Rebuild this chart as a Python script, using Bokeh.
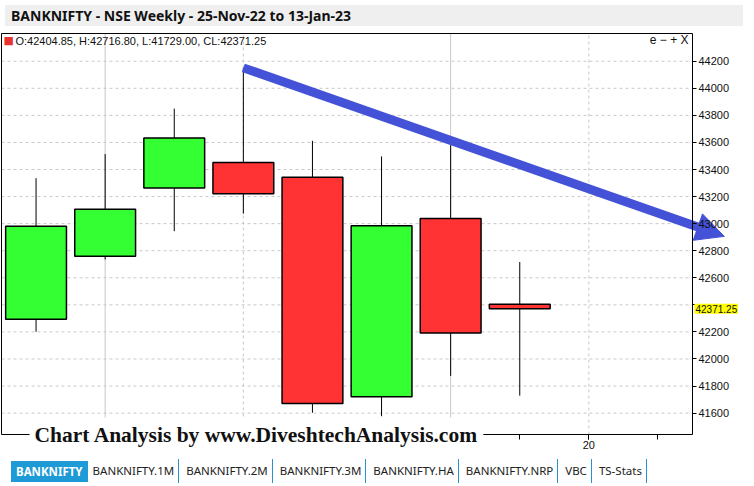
import math
import numpy as np
from bokeh.plotting import figure
from bokeh.models import (ColumnDataSource, FixedTicker, LinearAxis, Label,
                          Div, Range1d)
from bokeh.layouts import column
from bokeh.embed import file_html
from bokeh.resources import INLINE

# ---------------- data ----------------
dates = ["25-Nov-22", "02-Dec-22", "09-Dec-22", "16-Dec-22",
         "23-Dec-22", "30-Dec-22", "06-Jan-23", "13-Jan-23"]
opens = [42293, 42760, 43264, 43452, 43343, 41721, 43038, 42404.85]
highs = [43336, 43514, 43850, 44151, 43612, 43497, 43580, 42716.80]
lows = [42201, 42735, 42944, 43074, 41603, 41577, 41875, 41729.00]
closes = [42980, 43106, 43632, 43221, 41671, 42985, 42192, 42371.25]

y_ticks = [41600, 41800, 42000, 42200, 42400, 42600, 42800,
           43000, 43200, 43400, 43600, 43800, 44000, 44200]
week_ticks = [1, 2, 3, 4, 5, 6, 7, 8, 9, 10]
month_start_weeks = [2, 7]       # solid vertical grid lines
mid_month_weeks = [4, 9]         # dashed vertical grid lines
x_tick_labels = {9: "20"}

arrow_start = [4, 44151]
arrow_end = [10.96, 42906]

tabs = ["BANKNIFTY", "BANKNIFTY.1M", "BANKNIFTY.2M", "BANKNIFTY.3M",
        "BANKNIFTY.HA", "BANKNIFTY.NRP", "VBC", "TS-Stats"]

title_text = "BANKNIFTY - NSE Weekly - 25-Nov-22 to 13-Jan-23"
watermark = "Chart Analysis by www.DiveshtechAnalysis.com"

# ---------------- geometry of the chart box inside the canvas ----------------
W, H = 738, 421
BOX_L, BOX_R, BOX_T, BOX_B = 1, 46, 2, 18      # pixel margins around the price box
X0, X1 = 0.5, 10.5
Y0, Y1 = 41442, 44405
ux = (X1 - X0) / (W - BOX_L - BOX_R)
uy = (Y1 - Y0) / (H - BOX_T - BOX_B)
x_range = Range1d(X0 - BOX_L * ux, X1 + BOX_R * ux)
y_range = Range1d(Y0 - BOX_B * uy, Y1 + BOX_T * uy)

# ---------------- build ----------------
x = np.arange(1, len(dates) + 1)
colors = ["#33ff33" if c >= o else "#ff3333" for o, c in zip(opens, closes)]
src = ColumnDataSource(dict(
    x=x, open=opens, close=closes, high=highs, low=lows,
    top=[max(o, c) for o, c in zip(opens, closes)],
    bottom=[min(o, c) for o, c in zip(opens, closes)],
    color=colors, date=dates))

p = figure(width=W, height=H, x_range=x_range, y_range=y_range,
           output_backend="svg", toolbar_location=None,
           x_axis_location=None, y_axis_location=None, min_border=0)
p.background_fill_color = "white"
p.border_fill_color = "white"
p.outline_line_color = None
p.grid.visible = False

# grid lines (limited to the price box)
n = len(y_ticks)
p.segment(x0=[X0] * n, x1=[X1] * n, y0=y_ticks, y1=y_ticks,
          line_color="#c8c8c8", line_width=1, line_dash="3 3")
p.segment(x0=month_start_weeks, x1=month_start_weeks,
          y0=[Y0] * len(month_start_weeks), y1=[Y1] * len(month_start_weeks),
          line_color="#c8c8c8", line_width=1)
p.segment(x0=mid_month_weeks, x1=mid_month_weeks,
          y0=[Y0] * len(mid_month_weeks), y1=[Y1] * len(mid_month_weeks),
          line_color="#c8c8c8", line_width=1, line_dash="3 3")

# left and top border of the price box
p.segment(x0=[X0, X0], y0=[Y0, Y1], x1=[X0, X1], y1=[Y1, Y1],
          line_color="black", line_width=1)

# candles
p.segment(x0="x", y0="low", x1="x", y1="high", source=src,
          line_color="black", line_width=1)
p.vbar(x="x", width=0.88, top="top", bottom="bottom", source=src,
       fill_color="color", line_color="black", line_width=1.5)

# right price axis, drawn at the box edge
yax = LinearAxis(fixed_location=X1, bounds=(Y0, Y1),
                 ticker=FixedTicker(ticks=y_ticks))
yax.major_label_overrides = {42400: ""}      # hidden behind the last-price tag
yax.major_tick_out = 4
yax.major_tick_in = 0
yax.minor_tick_line_color = None
yax.axis_line_color = "black"
yax.major_label_standoff = 2
yax.major_label_text_font = "Liberation Sans"
yax.major_label_text_font_size = "11px"
yax.major_label_text_color = "#111111"
p.add_layout(yax, "right")

# bottom time axis, drawn at the box edge
xax = LinearAxis(fixed_location=Y0, bounds=(X0, X1),
                 ticker=FixedTicker(ticks=list(x_tick_labels.keys()), minor_ticks=week_ticks))
xax.major_label_overrides = x_tick_labels
xax.major_tick_out = 5
xax.major_tick_in = 0
xax.minor_tick_out = 5
xax.minor_tick_in = 0
xax.axis_line_color = "black"
xax.major_label_standoff = 1
xax.major_label_text_font = "Liberation Sans"
xax.major_label_text_font_size = "11px"
xax.major_label_text_color = "#111111"
p.add_layout(xax, "below")

# info text
p.add_layout(Label(x=X0, y=Y1, x_offset=2, y_offset=-7, text="\u25A0",
                   text_color="#e83232", text_font="DejaVu Sans",
                   text_font_size="11px", text_baseline="middle"))
info = "O:%.2f, H:%.2f, L:%.2f, CL:%.2f" % (opens[-1], highs[-1], lows[-1], closes[-1])
p.add_layout(Label(x=X0, y=Y1, x_offset=14, y_offset=-7, text=info,
                   text_color="#111111", text_font="Liberation Sans",
                   text_font_size="11px", text_baseline="middle"))
p.add_layout(Label(x=X1, y=Y1, x_offset=-4, y_offset=-6, text="e \u2212 + X",
                   text_align="right", text_color="#111111", text_font="Liberation Sans",
                   text_font_size="12px", text_baseline="middle"))

# last price tag on the axis
p.add_layout(Label(x=X1, y=closes[-1], x_offset=2, text="%.2f" % closes[-1],
                   text_color="#111111", text_font="Liberation Sans",
                   text_font_size="10px", text_baseline="middle",
                   background_fill_color="#ffff00", padding=1))

# trend arrow (shaft + head), built in pixel space from the two data points
blue = "#4352d6"
HEAD_LEN, HEAD_HALF = 28, 14
dxp = (arrow_end[0] - arrow_start[0]) / ux
dyp = (arrow_end[1] - arrow_start[1]) / uy
L = math.hypot(dxp, dyp)
cx, cy = dxp / L, dyp / L
base_x = arrow_end[0] - HEAD_LEN * cx * ux
base_y = arrow_end[1] - HEAD_LEN * cy * uy
shaft_x = arrow_end[0] - (HEAD_LEN - 3) * cx * ux
shaft_y = arrow_end[1] - (HEAD_LEN - 3) * cy * uy
p.segment(x0=[arrow_start[0]], y0=[arrow_start[1]], x1=[shaft_x], y1=[shaft_y],
          line_color=blue, line_width=9, line_cap="butt")
p.patch(x=[arrow_end[0], base_x - HEAD_HALF * cy * ux, base_x + HEAD_HALF * cy * ux],
        y=[arrow_end[1], base_y + HEAD_HALF * cx * uy, base_y - HEAD_HALF * cx * uy],
        fill_color=blue, line_color=blue, line_width=1)

# watermark
p.add_layout(Label(x=X0, y=Y0, x_offset=28, y_offset=0, text=watermark,
                   text_font="Liberation Serif", text_font_style="bold",
                   text_font_size="21.5px", text_color="#111111",
                   text_baseline="middle", background_fill_color="white",
                   padding=5))

# title bar
title_div = Div(text=('<div style="background:#efefef;width:738px;height:21px;'
                      'line-height:21px;padding-left:6px;box-sizing:border-box;'
                      'font-family:\'Noto Sans\';font-weight:bold;font-size:14px;'
                      'color:#111;white-space:nowrap;">%s</div>' % title_text),
                width=738, height=21)

# tab bar
spans = []
for i, t in enumerate(tabs):
    if i == 0:
        spans.append('<span style="background:#1e9ad6;color:white;font-weight:bold;'
                     'padding:0 5px;line-height:21px;margin-left:6px;margin-right:5px;">%s</span>' % t)
    else:
        pl = 0 if i == 1 else 7
        spans.append('<span style="padding:0 4px 0 %dpx;line-height:24px;'
                     'border-right:1.5px solid #2a92d0;">%s</span>' % (pl, t))
tabs_div = Div(text=('<div style="display:flex;align-items:center;height:28px;'
                     'font-family:\'Noto Sans\';font-size:11.5px;color:#222;'
                     'white-space:nowrap;background:white;">%s</div>' % "".join(spans)),
               width=738, height=28)

layout = column(title_div, p, tabs_div, spacing=0)

open("out.html", "w").write(file_html(layout, INLINE))
